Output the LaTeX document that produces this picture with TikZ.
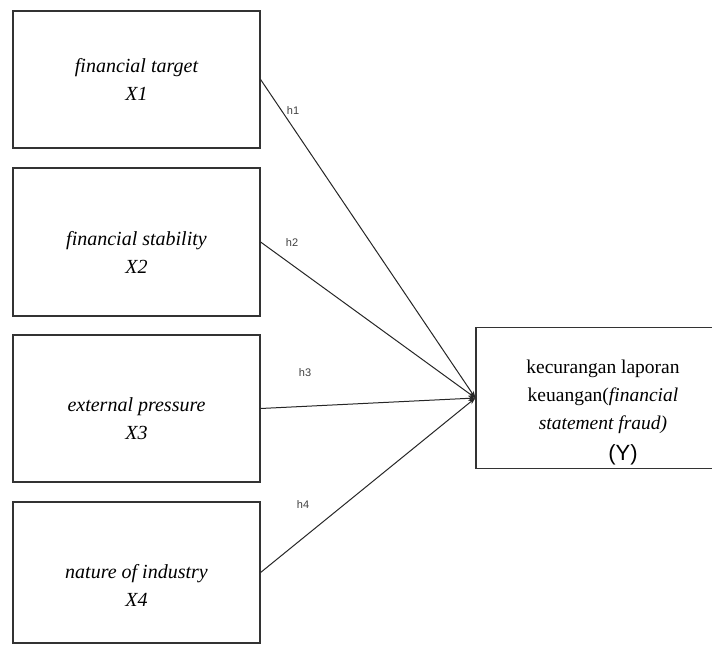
\documentclass[tikz,border=0pt]{standalone}
\usepackage{fontspec}
\setmainfont{Liberation Serif}
\newfontfamily\hfont{Liberation Sans}
\usetikzlibrary{arrows.meta}
\newcommand{\padtop}[1]{\rule{0pt}{#1}}

\begin{document}
\begin{tikzpicture} [
        x = 1pt, y = -1pt,
        varbox/.style = { draw = black!80, line width = 1.2pt, minimum width = 247pt, align = center,
                          font = \itshape\fontsize{20}{28}\selectfont },
        depbox/.style = { draw = black!80, line width = 1.2pt, minimum width = 254pt, minimum height = 138pt,
                          align = center, font = \fontsize{19.5}{28}\selectfont },
        hyp/.style = { font = \hfont\fontsize{11}{13}\selectfont, text = black!75 },
        path/.style = { draw = black!85, line width = 1pt, -{Stealth[length = 7pt, width = 5pt]} }
        ]
        \clip (0,0) rectangle (712,645);

        \node [varbox, minimum height = 137pt] (x1) at (136.5,79.5) {financial target\\X1};
        \node [varbox, minimum height = 148pt] (x2) at (136.5,242) {\padtop{34pt}financial stability\\X2};
        \node [varbox, minimum height = 147pt] (x3) at (136.5,408.5) {\padtop{34pt}external pressure\\X3};
        \node [varbox, minimum height = 141pt] (x4) at (136.5,572.5) {\padtop{40pt}nature of industry\\X4};

        \node [depbox] (fraud) at (603,398) {\padtop{42pt}kecurangan laporan\\keuangan(\textit{financial}\\
            \textit{statement fraud)}\\[3pt] \hspace*{40pt}{\hfont\fontsize{22}{24}\selectfont(Y)}};

        % hypotheses
        \draw [path] (x1.east) -- (fraud.west);
        \draw [path] (x2.east) -- (fraud.west);
        \draw [path] (x3.east) -- (fraud.west);
        \draw [path] (x4.east) -- (fraud.west);

        \node [hyp] (h1) at (293,111) {h1};
        \node [hyp] (h2) at (292,243) {h2};
        \node [hyp] (h3) at (305,373) {h3};
        \node [hyp] (h4) at (303,505) {h4};
    \end{tikzpicture}
\end{document}
